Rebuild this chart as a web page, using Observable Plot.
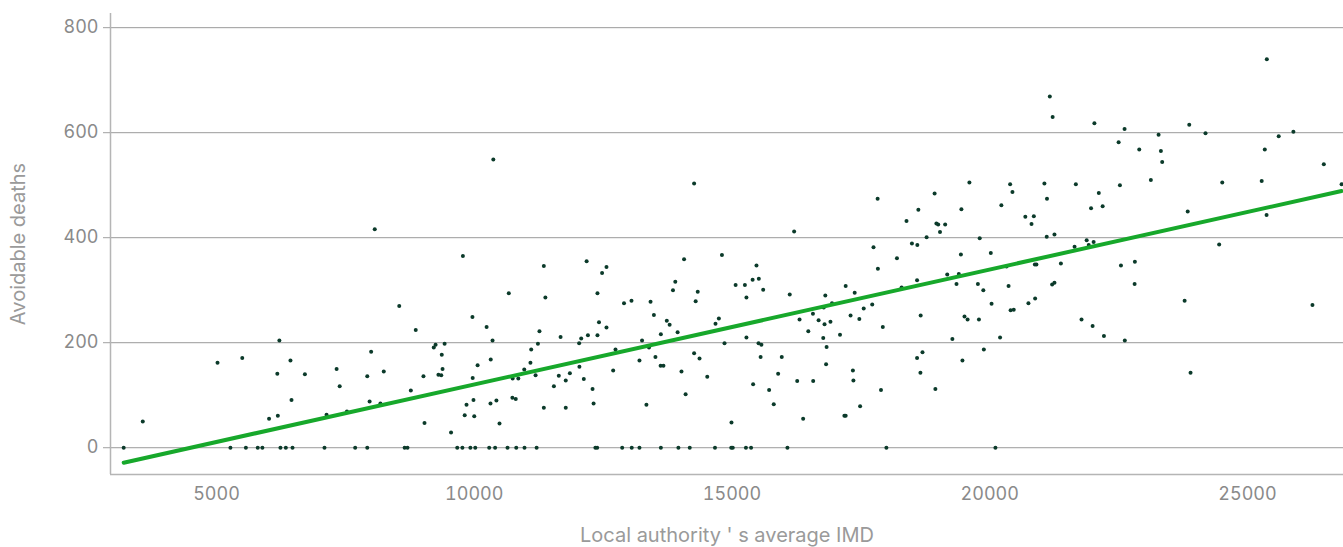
<!DOCTYPE html>
<html>
<head>
<meta charset="utf-8">
<script src="https://cdn.jsdelivr.net/npm/d3@7"></script>
<script src="https://cdn.jsdelivr.net/npm/@observablehq/plot@0.6"></script>
<style>
  html, body { margin: 0; padding: 0; background: #fff; }
  #chart { width: 1343px; height: 547px; overflow: hidden; }
</style>
</head>
<body>
<div id="chart"></div>
<script>
// Local authority's average IMD (x) and avoidable deaths (y)
const imd = [
  3200,3570,5020,5500,5270,5570,5800,5890,6220,6180,6435,6455,6020,6190,6240,6345,6475,6715,7095,7135,
  7330,7390,7530,7690,7925,7925,8000,7970,8180,8245,8545,8865,8770,8650,8705,9015,9035,8070,
  9215,9250,9425,9370,9385,9305,9360,9965,10240,10355,10320,10065,9970,9985,9850,10315,10430,9815,10000,10490,9550,
  9670,9770,9925,10020,10290,10405,10645,10815,10975,11210,
  10745,10855,10740,10805,10970,11090,11105,11235,11265,11190,11350,11675,11640,11545,11775,11855,11775,
  12035,12075,12205,12390,12420,12565,12040,12125,12295,12315,12350,12385,
  12740,12695,12905,13050,13420,13485,13255,13205,13390,13515,13620,13735,13790,13945,13615,13670,13340,
  14020,14100,14295,14265,14370,14520,14680,14745,14855,14990,
  12870,13055,13205,13620,13960,14180,14670,14985,15015,
  15280,15515,15570,15555,15965,15410,15720,15895,15810,15270,15370,16075,
  16310,16570,16680,16795,16910,16480,16770,16835,16825,16265,16575,16380,
  17095,17300,17470,17555,17720,17925,17345,17355,17180,17205,17485,17890,17995,
  18660,18590,18695,18655,18945,19275,19510,19570,19790,20035,19470,19885,20200,20405,20465,20750,20110,16780,
  21780,21995,22215,22620,23780,23895,26260,
  10370,14265,9780,11350,12180,12480,12565,10670,11380,12390,13855,13900,14070,14335,14805,15070,
  16205,17825,18930,19605,20395,20440,21060,21110,18615,18385,19450,20225,18965,19000,19135,19035,18775,19805,
  20690,20855,20810,21255,21105,17745,17830,18200,18490,18595,19440,20020,15475,15400,15520,15250,15280,15605,
  16120,16810,17205,17380,18590,18290,19175,19400,19355,19770,19875,20365,20880,20905,20875,21210,21255,20325,16940,
  21670,22115,22525,21965,22190,23125,22500,22900,23275,23320,23345,24185,24510,25275,25335,25605,25890,26480,26825,
  23840,25370,21880,22015,21920,21645,21380,22545,22815,22810,24450,
  21165,21220,22030,22615,23870,25375
];
const deaths = [
  0,50,162,171,0,0,0,0,204,141,166,91,55,61,0,0,0,140,0,63,
  150,117,69,0,0,136,183,88,84,145,270,224,109,0,0,136,47,416,
  191,196,198,177,150,139,138,249,230,204,168,157,133,91,82,84,90,62,60,46,29,
  0,0,0,0,0,0,0,0,0,0,
  132,132,95,93,149,162,187,198,222,138,76,211,137,117,128,142,76,
  199,208,214,214,239,229,154,131,112,84,0,0,
  187,147,275,280,278,253,204,166,191,173,216,242,234,220,156,156,82,
  145,102,279,180,170,135,236,246,199,48,
  0,0,0,0,0,0,0,0,0,
  210,199,196,173,173,121,110,141,83,0,0,0,
  244,255,243,235,240,222,209,192,159,127,127,55,
  215,252,245,265,273,230,147,128,61,61,79,110,0,
  252,171,182,143,112,207,250,244,244,274,166,187,210,262,263,275,0,267,
  244,232,213,204,280,143,272,
  549,503,365,346,355,333,344,294,286,294,300,316,359,297,367,310,
  412,474,484,505,502,487,503,474,453,432,454,462,427,425,425,411,401,399,
  440,441,426,406,402,382,341,361,389,386,368,371,347,320,322,310,286,301,
  292,290,308,295,319,305,330,331,312,312,300,308,284,349,349,311,314,345,275,
  502,485,500,456,460,510,582,568,596,565,544,599,505,508,568,593,602,540,502,
  450,443,395,392,386,383,351,347,354,312,387,
  669,630,618,607,615,740
];
const xTicks = [5000, 10000, 15000, 20000, 25000];
const yTicks = [0, 200, 400, 600, 800];
const xDomain = [2944, 26862];
const yDomain = [-51, 827];

const data = imd.map((x, i) => ({imd: x, deaths: deaths[i]}));

const font = "Inter, 'Noto Sans', sans-serif";
const chart = Plot.plot({
  width: 1343,
  height: 547,
  marginLeft: 110,
  marginRight: 0,
  marginTop: 13,
  marginBottom: 73,
  style: {fontFamily: font, fontSize: "18px", background: "#fff", overflow: "visible"},
  x: {domain: xDomain},
  y: {domain: yDomain},
  marks: [
    Plot.gridY(yTicks, {stroke: "#9a9a9a", strokeOpacity: 1, strokeWidth: 1}),
    Plot.ruleX([xDomain[0]], {stroke: "#b5b5b5", strokeWidth: 1.5}),
    Plot.ruleY([yDomain[0]], {stroke: "#b5b5b5", strokeWidth: 1.5}),
    Plot.axisY(yTicks, {
      tickSize: 7, tickPadding: 5, stroke: "#a0a0a0", fill: "#8a8a8a",
      fontSize: 18, label: "Avoidable deaths", labelAnchor: "center", labelArrow: "none",
      labelOffset: 100
    }),
    Plot.axisX(xTicks, {
      tickSize: 0, tickPadding: 13, fill: "#8a8a8a", stroke: "#a0a0a0",
      tickFormat: d3.format("d"), fontSize: 18,
      label: "Local authority ' s average IMD", labelAnchor: "center", labelArrow: "none",
      labelOffset: 67
    }),
    Plot.dot(data, {x: "imd", y: "deaths", r: 2, fill: "#0b3a2a", stroke: "none"}),
    Plot.linearRegressionY(data, {x: "imd", y: "deaths", stroke: "#17a82b", strokeWidth: 4, ci: 0})
  ]
});
document.getElementById("chart").appendChild(chart);
// soften axis label colors
chart.querySelectorAll("g[aria-label='y-axis label'] text, g[aria-label='x-axis label'] text").forEach(t => {
  t.setAttribute("fill", "#9a9a9a");
  t.style.fontSize = "20px";
});
</script>
</body>
</html>
